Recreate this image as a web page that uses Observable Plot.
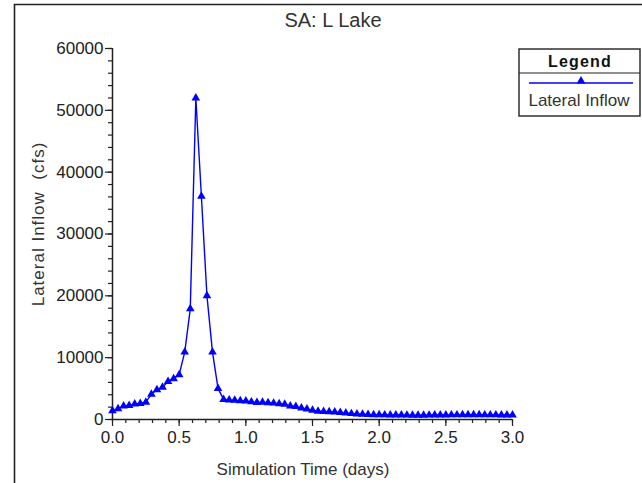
<!DOCTYPE html>
<html>
<head>
<meta charset="utf-8">
<script src="https://cdn.jsdelivr.net/npm/d3@7"></script>
<script src="https://cdn.jsdelivr.net/npm/@observablehq/plot@0.6"></script>
<style>
  html, body { margin: 0; padding: 0; background: #fff; }
  #chart { width: 642px; height: 483px; position: relative; }
  svg { font-family: "Liberation Sans", Arial, sans-serif; }
</style>
</head>
<body>
<div id="chart"></div>
<script>
// ---- data ----
const title = "SA: L Lake";
const xLabel = "Simulation Time (days)";
const yLabel = "Lateral Inflow  (cfs)";
const seriesName = "Lateral Inflow";
const hours = [0,1,2,3,4,5,6,7,8,9,10,11,12,13,14,15,16,17,18,19,20,21,22,23,24,
  25,26,27,28,29,30,31,32,33,34,35,36,37,38,39,40,41,42,43,44,45,46,47,48,
  49,50,51,52,53,54,55,56,57,58,59,60,61,62,63,64,65,66,67,68,69,70,71,72];
const inflow = [1400,1750,2200,2250,2500,2600,2800,4100,4800,5200,6150,6600,7250,
  10900,17900,52000,36100,20000,10900,5000,3250,3150,3100,3050,3000,2850,2750,
  2800,2700,2650,2550,2450,2200,2100,1850,1700,1500,1350,1300,1250,1200,1150,
  1050,950,900,850,800,780,760,750,740,730,720,710,700,700,700,710,720,730,
  740,750,750,760,760,760,760,750,750,750,740,740,730];
const xMajorTicks = [0, 0.5, 1.0, 1.5, 2.0, 2.5, 3.0];
const xMinorTicks = [0,0.1,0.2,0.3,0.4,0.5,0.6,0.7,0.8,0.9,1.0,1.1,1.2,1.3,1.4,1.5,
  1.6,1.7,1.8,1.9,2.0,2.1,2.2,2.3,2.4,2.5,2.6,2.7,2.8,2.9,3.0];
const yMajorTicks = [0, 10000, 20000, 30000, 40000, 50000, 60000];
const yMinorTicks = [0,2000,4000,6000,8000,10000,12000,14000,16000,18000,20000,22000,
  24000,26000,28000,30000,32000,34000,36000,38000,40000,42000,44000,46000,48000,
  50000,52000,54000,56000,58000,60000];

const data = hours.map((h, i) => ({t: h / 24, v: inflow[i]}));
const blue = "#0000ff";
const ink = "#222";
const markerR = 3.2;

const plot = Plot.plot({
  width: 642,
  height: 483,
  marginLeft: 112,
  marginRight: 130,
  marginTop: 48,
  marginBottom: 64,
  style: {fontFamily: '"Liberation Sans", Arial, sans-serif', fontSize: "17px", color: ink, background: "#fff", overflow: "visible"},
  x: {domain: [0, 3]},
  y: {domain: [0, 60000]},
  marks: [
    Plot.axisY({ticks: yMinorTicks, tickSize: 4, text: null, label: null, strokeWidth: 1.2}),
    Plot.axisY({ticks: yMajorTicks, tickSize: 7, tickPadding: 2, tickFormat: d3.format("d"), label: null, fontSize: 17, strokeWidth: 1.2}),
    Plot.axisX({ticks: xMinorTicks, tickSize: 4, text: null, label: null, strokeWidth: 1.2}),
    Plot.axisX({ticks: xMajorTicks, tickSize: 7, tickPadding: 4, tickFormat: d3.format(".1f"), label: null, fontSize: 17, strokeWidth: 1.2}),
    Plot.ruleX([0], {stroke: ink, strokeWidth: 1.5}),
    Plot.ruleY([0], {stroke: ink, strokeWidth: 1.5}),
    Plot.line(data, {x: "t", y: "v", stroke: blue, strokeWidth: 1.4}),
    Plot.dot(data, {x: "t", y: "v", symbol: "triangle", fill: blue, stroke: "none", r: markerR})
  ]
});
document.getElementById("chart").appendChild(plot);

// ---- decorations: frame, title, axis labels, legend ----
const svg = d3.select(plot);
const g = svg.append("g");
// outer frame (left and top edges)
g.append("path").attr("d", "M14.5,483 V4.5 H642").attr("fill", "none").attr("stroke", ink).attr("stroke-width", 1.6);
g.append("text").attr("x", 333).attr("y", 27).attr("text-anchor", "middle")
  .attr("font-size", 20).attr("fill", "#333").text(title);
g.append("text").attr("x", 303).attr("y", 475).attr("text-anchor", "middle")
  .attr("font-size", 17).attr("fill", "#333").text(xLabel);
g.append("text").attr("transform", "translate(44,224) rotate(-90)").attr("text-anchor", "middle")
  .attr("font-size", 17).attr("letter-spacing", 1).attr("fill", "#333")
  .style("white-space", "pre").attr("xml:space", "preserve").text(yLabel);
// legend
const lg = g.append("g");
lg.append("rect").attr("x", 519).attr("y", 49).attr("width", 121).attr("height", 67)
  .attr("fill", "#fff").attr("stroke", ink).attr("stroke-width", 1.4);
lg.append("line").attr("x1", 519).attr("x2", 640).attr("y1", 73).attr("y2", 73)
  .attr("stroke", ink).attr("stroke-width", 1.2);
lg.append("text").attr("x", 580).attr("y", 67).attr("text-anchor", "middle")
  .attr("font-size", 16).attr("font-weight", "bold").attr("letter-spacing", 1.2).attr("fill", "#111").text("Legend");
lg.append("line").attr("x1", 529).attr("x2", 633).attr("y1", 83).attr("y2", 83)
  .attr("stroke", blue).attr("stroke-width", 1.4);
lg.append("path").attr("d", d3.symbol(d3.symbolTriangle, Math.PI * markerR * markerR)())
  .attr("transform", "translate(581,81)").attr("fill", blue);
lg.append("text").attr("x", 579).attr("y", 106).attr("text-anchor", "middle")
  .attr("font-size", 17).attr("fill", "#333").text(seriesName);
</script>
</body>
</html>
